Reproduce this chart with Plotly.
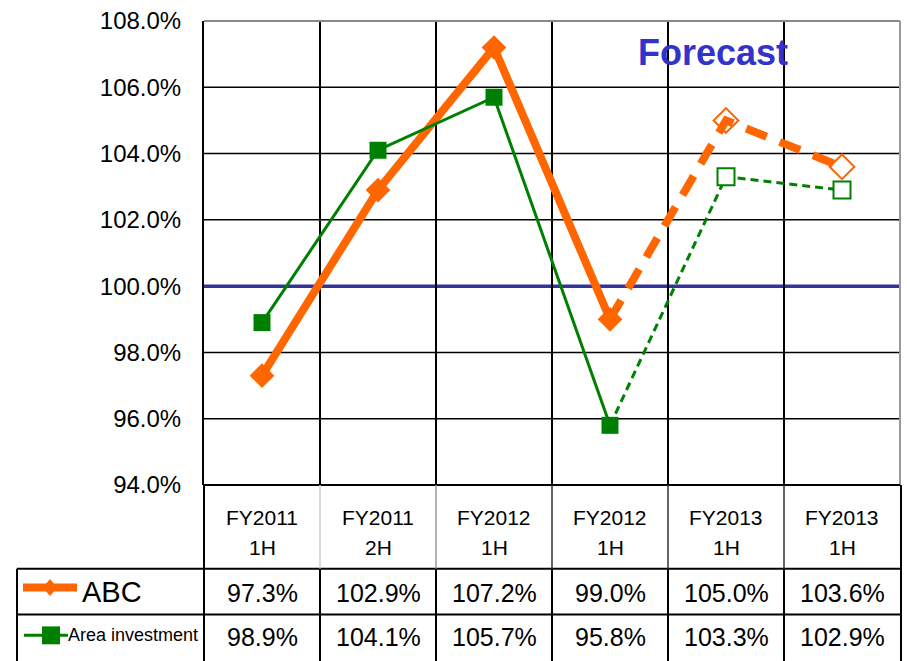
import plotly.graph_objects as go

# ---- data ----
categories = ["FY2011<br>1H", "FY2011<br>2H", "FY2012<br>1H", "FY2012<br>1H", "FY2013<br>1H", "FY2013<br>1H"]
abc = [97.3, 102.9, 107.2, 99.0, 105.0, 103.6]
area_investment = [98.9, 104.1, 105.7, 95.8, 103.3, 102.9]
series_names = ["ABC", "Area investment"]
y_ticks = [94, 96, 98, 100, 102, 104, 106, 108]
reference_level = 100
n_actual = 4  # first 4 are actuals, rest forecast

ORANGE = "#FF6600"
GREEN = "#008000"
FONT = "Liberation Sans, Arial, sans-serif"

W, H = 907, 661
L, R, T, B = 204, 900, 19, 485
x = list(range(len(categories)))


def py(p):
    return (B - p) / (B - T)


def px(p):
    return (p - L) / (R - L)


fig = go.Figure()

# ABC actual
fig.add_trace(go.Scatter(x=x[:n_actual], y=abc[:n_actual], mode="lines+markers",
                         line=dict(color=ORANGE, width=8),
                         marker=dict(symbol="diamond", size=19, color=ORANGE),
                         showlegend=False, hoverinfo="skip"))
# ABC forecast
fig.add_trace(go.Scatter(x=x[n_actual - 1:], y=abc[n_actual - 1:], mode="lines",
                         line=dict(color=ORANGE, width=8, dash="22px,14px"),
                         showlegend=False, hoverinfo="skip"))
fig.add_trace(go.Scatter(x=x[n_actual:], y=abc[n_actual:], mode="markers",
                         marker=dict(symbol="diamond-open", size=19, color=ORANGE,
                                     line=dict(width=2, color=ORANGE)),
                         showlegend=False, hoverinfo="skip"))
# Area investment actual
fig.add_trace(go.Scatter(x=x[:n_actual], y=area_investment[:n_actual], mode="lines+markers",
                         line=dict(color=GREEN, width=3),
                         marker=dict(symbol="square", size=17, color=GREEN),
                         showlegend=False, hoverinfo="skip"))
# Area investment forecast
fig.add_trace(go.Scatter(x=x[n_actual - 1:], y=area_investment[n_actual - 1:], mode="lines",
                         line=dict(color=GREEN, width=3, dash="8px,5px"),
                         showlegend=False, hoverinfo="skip"))
fig.add_trace(go.Scatter(x=x[n_actual:], y=area_investment[n_actual:], mode="markers",
                         marker=dict(symbol="square", size=17, color="white",
                                     line=dict(width=2, color=GREEN)),
                         showlegend=False, hoverinfo="skip"))

shapes = []
# horizontal gridlines (except reference level) drawn under traces
for v in y_ticks[1:-1]:
    if v == reference_level:
        continue
    shapes.append(dict(type="line", xref="paper", yref="y", x0=0, x1=1, y0=v, y1=v,
                       line=dict(color="black", width=1.5), layer="below"))
# 100% reference line
shapes.append(dict(type="line", xref="paper", yref="y", x0=0, x1=1,
                   y0=reference_level, y1=reference_level,
                   line=dict(color="#333399", width=3.5), layer="below"))
# plot border top / right (gray)
shapes.append(dict(type="line", xref="paper", yref="paper", x0=0, x1=1, y0=1, y1=1,
                   line=dict(color="#888888", width=2)))
shapes.append(dict(type="line", xref="paper", yref="paper", x0=1, x1=1, y0=0, y1=1,
                   line=dict(color="#999999", width=2)))
# bottom axis line
shapes.append(dict(type="line", xref="paper", yref="paper", x0=0, x1=1, y0=0, y1=0,
                   line=dict(color="black", width=2)))

# ---- table below ----
y_row1 = py(569)
y_row2 = py(615)
y_bot = py(662)
y_hdr = 0
for yy in (y_row1, y_row2):
    shapes.append(dict(type="line", xref="paper", yref="paper", x0=px(17), x1=px(901),
                       y0=yy, y1=yy, line=dict(color="black", width=2)))
shapes.append(dict(type="line", xref="paper", yref="paper", x0=px(17), x1=px(17),
                   y0=y_row1, y1=y_bot, line=dict(color="black", width=2)))
shapes.append(dict(type="line", xref="paper", yref="paper", x0=0, x1=0,
                   y0=y_hdr, y1=y_bot, line=dict(color="black", width=2)))
shapes.append(dict(type="line", xref="paper", yref="paper", x0=px(901), x1=px(901),
                   y0=y_hdr, y1=y_bot, line=dict(color="black", width=2)))
n = len(categories)
hdr_colors = ["#cccccc", "#999999", "#333333", "#333333", "#333333"]
for i in range(1, n):
    xx = i / n
    shapes.append(dict(type="line", xref="paper", yref="paper", x0=xx, x1=xx,
                       y0=y_hdr, y1=y_row1, line=dict(color=hdr_colors[i - 1], width=1.5)))
    shapes.append(dict(type="line", xref="paper", yref="paper", x0=xx, x1=xx,
                       y0=y_row1, y1=y_bot, line=dict(color="black", width=2)))

# legend keys in table
ly1 = py(588)
shapes.append(dict(type="line", xref="paper", yref="paper", x0=px(23), x1=px(77),
                   y0=ly1, y1=ly1, line=dict(color=ORANGE, width=8)))
cx, cy = px(50), py(588)
dx, dy = 6.5 / (R - L), 8 / (B - T)
shapes.append(dict(type="path", xref="paper", yref="paper",
                   path=f"M {cx - dx} {cy} L {cx} {cy + dy} L {cx + dx} {cy} L {cx} {cy - dy} Z",
                   fillcolor=ORANGE, line=dict(color=ORANGE, width=1)))
ly2 = py(636)
shapes.append(dict(type="line", xref="paper", yref="paper", x0=px(24), x1=px(68),
                   y0=ly2, y1=ly2, line=dict(color=GREEN, width=3)))
shapes.append(dict(type="rect", xref="paper", yref="paper", x0=px(42), x1=px(60),
                   y0=py(645), y1=py(627), fillcolor=GREEN, line=dict(color=GREEN, width=0)))

annotations = []
for i, cat in enumerate(categories):
    top, bottom = cat.split("<br>")
    annotations.append(dict(x=i, y=py(518), xref="x", yref="paper", text=top, showarrow=False,
                            font=dict(family=FONT, size=21, color="black"), yanchor="middle"))
    annotations.append(dict(x=i, y=py(548), xref="x", yref="paper", text=bottom, showarrow=False,
                            font=dict(family=FONT, size=21, color="black"), yanchor="middle"))
    annotations.append(dict(x=i, y=py(593), xref="x", yref="paper", text=f"{abc[i]:.1f}%",
                            showarrow=False, font=dict(family=FONT, size=25, color="black"),
                            yanchor="middle"))
    annotations.append(dict(x=i, y=py(638), xref="x", yref="paper", text=f"{area_investment[i]:.1f}%",
                            showarrow=False, font=dict(family=FONT, size=25, color="black"),
                            yanchor="middle"))
annotations.append(dict(x=px(80), y=py(592), xref="paper", yref="paper", text=series_names[0],
                        showarrow=False, xanchor="left", yanchor="middle",
                        font=dict(family=FONT, size=29, color="black")))
annotations.append(dict(x=px(66), y=py(636), xref="paper", yref="paper", text=series_names[1],
                        showarrow=False, xanchor="left", yanchor="middle",
                        font=dict(family=FONT, size=18, color="black")))
annotations.append(dict(x=px(713), y=py(51), xref="paper", yref="paper", text="<b>Forecast</b>",
                        showarrow=False, xanchor="center", yanchor="middle",
                        font=dict(family=FONT, size=36, color="#3333CC")))

fig.update_layout(
    width=W, height=H,
    margin=dict(l=L, r=W - R, t=T, b=H - B, pad=0),
    paper_bgcolor="white", plot_bgcolor="white",
    showlegend=False,
    shapes=shapes, annotations=annotations,
    xaxis=dict(range=[-0.5, n - 0.5], tickvals=[i + 0.5 for i in range(n - 1)],
               showticklabels=False, showgrid=True, gridcolor="black", gridwidth=1.5,
               zeroline=False, showline=False, ticks=""),
    yaxis=dict(range=[y_ticks[0], y_ticks[-1]], tickvals=y_ticks,
               ticktext=[f"{v:.1f}%" for v in y_ticks],
               showgrid=False, zeroline=False,
               showline=True, linecolor="black", linewidth=2, ticks="",
               ticklabelstandoff=16,
               tickfont=dict(family=FONT, size=24, color="black")),
)

fig.write_html("out.html")
